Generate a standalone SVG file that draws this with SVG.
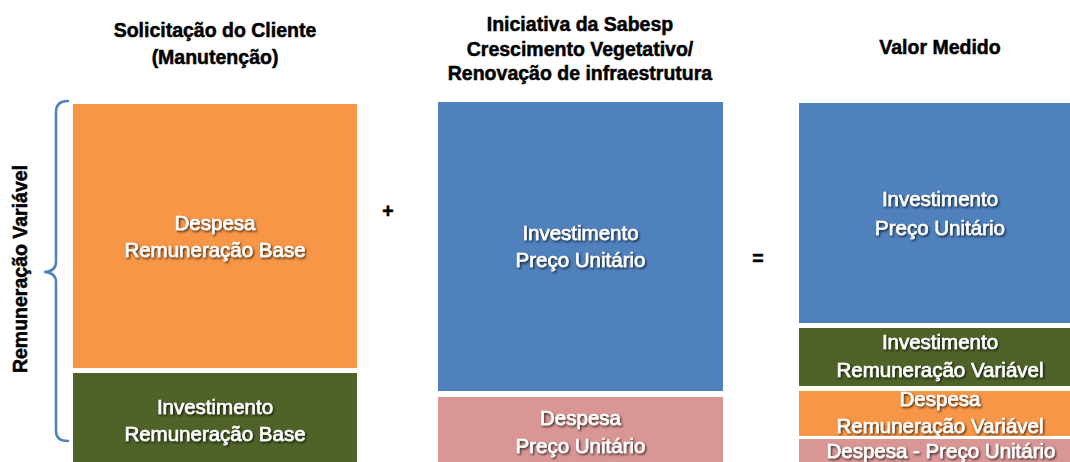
<svg xmlns="http://www.w3.org/2000/svg" width="1070" height="462" viewBox="0 0 1070 462">
<defs>
<filter id="sh" x="-10%" y="-30%" width="120%" height="160%">
<feDropShadow dx="1.2" dy="1.5" stdDeviation="1.2" flood-color="#000" flood-opacity="0.75"/>
</filter>
<clipPath id="clipOr"><rect x="799" y="391" width="280" height="45"/></clipPath>
</defs>
<style>
.h{font-family:"Liberation Sans",Arial,sans-serif;font-weight:bold;font-size:19.5px;fill:#000;text-anchor:middle;stroke:#000;stroke-width:0.5}
.t{font-family:"Liberation Sans",Arial,sans-serif;font-size:20.5px;fill:#fff;text-anchor:middle;filter:url(#sh);stroke:#fff;stroke-width:0.6}
.or{fill:#F79646}.gr{fill:#4F6228}.bl{fill:#4F81BD}.pk{fill:#D99694}
.br{fill:none;stroke:#4F81BD;stroke-width:2.5;stroke-linecap:round;stroke-linejoin:round}
</style>
<rect width="1070" height="462" fill="#fff"/>

<g id="headings">
<text class="h" x="215" y="37">Solicitação do Cliente</text>
<text class="h" x="215" y="64">(Manutenção)</text>
<text class="h" x="580" y="31">Iniciativa da Sabesp</text>
<text class="h" x="580" y="56">Crescimento Vegetativo/</text>
<text class="h" x="580" y="80">Renovação de infraestrutura</text>
<text class="h" x="940" y="54">Valor Medido</text>
</g>

<g id="label-variavel">
<text class="h" transform="translate(27,269) rotate(-90)" font-size="20px">Remuneração Variável</text>
</g>

<g id="connectors">
<path class="br" d="M68,101 Q56,101 56,112 L56,262 Q56,271 45,272 Q56,273 56,282 L56,431 Q56,441 68,441"/>
</g>

<g id="n-despesa-base">
<rect class="or" x="73" y="104" width="284" height="264"/>
<text class="t" x="215" y="230">Despesa</text>
<text class="t" x="215" y="257">Remuneração Base</text>
</g>
<g id="n-invest-base">
<rect class="gr" x="73" y="373" width="284" height="89"/>
<text class="t" x="215" y="414">Investimento</text>
<text class="t" x="215" y="441">Remuneração Base</text>
</g>

<g id="op-plus"><text class="h" x="388" y="218">+</text></g>

<g id="n-invest-pu">
<rect class="bl" x="438" y="102" width="285" height="289"/>
<text class="t" x="580.5" y="240">Investimento</text>
<text class="t" x="580.5" y="267">Preço Unitário</text>
</g>
<g id="n-despesa-pu">
<rect class="pk" x="438" y="397" width="285" height="65"/>
<text class="t" x="580.5" y="425">Despesa</text>
<text class="t" x="580.5" y="453">Preço Unitário</text>
</g>

<g id="op-equals"><text class="h" x="758" y="265">=</text></g>

<g id="n-valor-invest-pu">
<rect class="bl" x="799" y="103" width="282" height="220"/>
<text class="t" x="940" y="206">Investimento</text>
<text class="t" x="940" y="235">Preço Unitário</text>
</g>
<g id="n-valor-invest-var">
<rect class="gr" x="799" y="328" width="282" height="58"/>
<text class="t" x="940" y="349">Investimento</text>
<text class="t" x="940" y="377">Remuneração Variável</text>
</g>
<g id="n-valor-despesa-var">
<rect class="or" x="799" y="391" width="282" height="45"/>
<g clip-path="url(#clipOr)">
<text class="t" x="940" y="406">Despesa</text>
<text class="t" x="940" y="433">Remuneração Variável</text>
</g>
</g>
<g id="n-valor-despesa-pu">
<rect class="pk" x="799" y="439" width="282" height="23"/>
<text class="t" x="941" y="458">Despesa - Preço Unitário</text>
</g>
</svg>
